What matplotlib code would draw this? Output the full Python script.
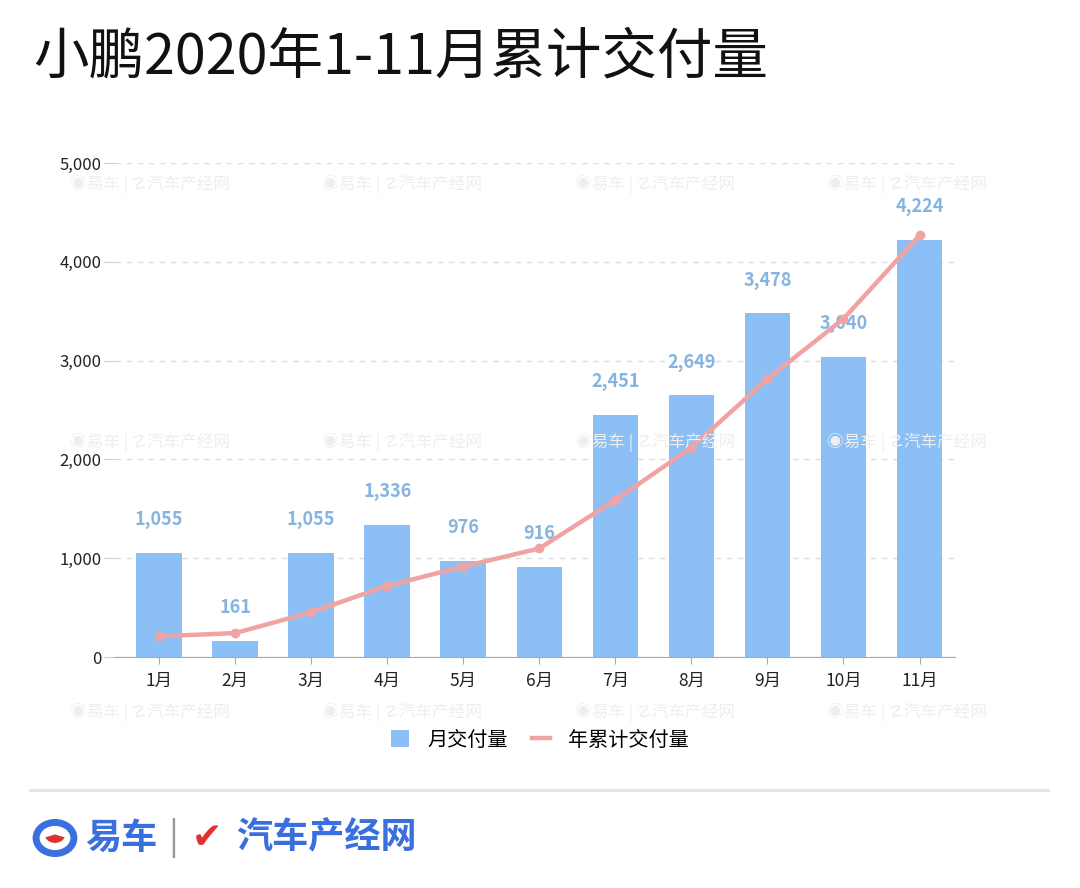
import matplotlib.pyplot as plt
from matplotlib.patches import Circle, Wedge
from matplotlib.lines import Line2D
import numpy as np

plt.rcParams['font.family'] = ['Noto Sans CJK SC', 'DejaVu Sans']

months = ['1月', '2月', '3月', '4月', '5月', '6月', '7月', '8月', '9月', '10月', '11月']
monthly = [1055, 161, 1055, 1336, 976, 916, 2451, 2649, 3478, 3040, 4224]
cumulative = [1055, 1216, 2271, 3607, 4583, 5499, 7950, 10599, 14077, 17117, 21341]
yticks = [0, 1000, 2000, 3000, 4000, 5000]

bar_color = '#8bbff5'
label_color = '#86b4e0'
line_color = '#f0a3a3'

fig = plt.figure(figsize=(10.8, 8.88), dpi=100)
ax = fig.add_axes([0.1065, 0.26, 0.778, 0.5564])

x = np.arange(len(months))
bars = ax.bar(x, monthly, 0.6, color=bar_color, zorder=2)
for xi, v in zip(x, monthly):
    ax.annotate(f'{v:,}', xy=(xi, v), xytext=(0, 24), textcoords='offset points',
                ha='center', va='center', fontsize=13, fontweight='bold',
                color=label_color, zorder=5)

ax.set_xlim(-0.58, 10.47)
ax.set_ylim(0, 5000)
ax.set_yticks(yticks)
ax.set_yticklabels([f'{t:,}' for t in yticks], fontsize=12, color='#222222')
ax.set_xticks(x)
ax.set_xticklabels(months, fontsize=12.5, color='#222222')
ax.tick_params(axis='y', length=8, color='#cccccc', pad=2)
ax.tick_params(axis='x', length=5, color='#aaaaaa', pad=6)
ax.grid(axis='y', linestyle=(0, (4, 4)), color='#dddddd', linewidth=1, zorder=0)
for s in ['top', 'right', 'left']:
    ax.spines[s].set_visible(False)
ax.spines['bottom'].set_color('#aaaaaa')

# cumulative line on a hidden second scale
ax2 = ax.twinx()
ax2.set_ylim(0, 25000)
ax2.plot(x, cumulative, color=line_color, linewidth=3.2, marker='o',
         markersize=6, zorder=4)
ax2.axis('off')

line_handle = Line2D([], [], color=line_color, linewidth=3.2)
fig.legend([bars, line_handle], ['月交付量', '年累计交付量'], loc='center',
           bbox_to_anchor=(0.5, 1 - 740 / 888), ncol=2, frameon=False,
           fontsize=14.5, handlelength=0.9, handleheight=0.9, columnspacing=1.2,
           handletextpad=0.9)

# faint watermarks
for wy in [184, 442, 712]:
    for wx in [70, 322, 575, 827]:
        fig.text(wx / 1080, 1 - wy / 888, '◉易车 | ☡汽车产经网', fontsize=12,
                 color='#eeeeee', ha='left', va='center', zorder=0)

fig.text(33 / 1080, 1 - 58 / 888, '小鹏2020年1-11月累计交付量', fontsize=40,
         color='#111111', ha='left', va='center')

# footer
fig.add_artist(Line2D([30 / 1080, 1048 / 1080], [1 - 790 / 888] * 2,
                      color='#e3e3e3', linewidth=2))
logo_y = 1 - 838 / 888
fig.add_artist(Circle((55 / 1080, logo_y), 0.0175, transform=fig.transFigure,
                      facecolor='none', edgecolor='#3a6fe0', linewidth=5))
fig.add_artist(Wedge((55 / 1080, logo_y + 0.004), 0.0095, 200, 340,
                     transform=fig.transFigure, facecolor='#e03030', edgecolor='none'))
fig.text(85 / 1080, logo_y, '易车', fontsize=26, fontweight='bold', color='#3a6fe0',
         ha='left', va='center')
fig.text(168 / 1080, logo_y, '|', fontsize=26, color='#999999', ha='left', va='center')
fig.text(192 / 1080, logo_y, '✔', fontsize=26, color='#e03030', ha='left', va='center')
fig.text(236 / 1080, logo_y, '汽车产经网', fontsize=26, fontweight='bold', color='#3a6fe0',
         ha='left', va='center')

plt.savefig('out.png', dpi=100)
